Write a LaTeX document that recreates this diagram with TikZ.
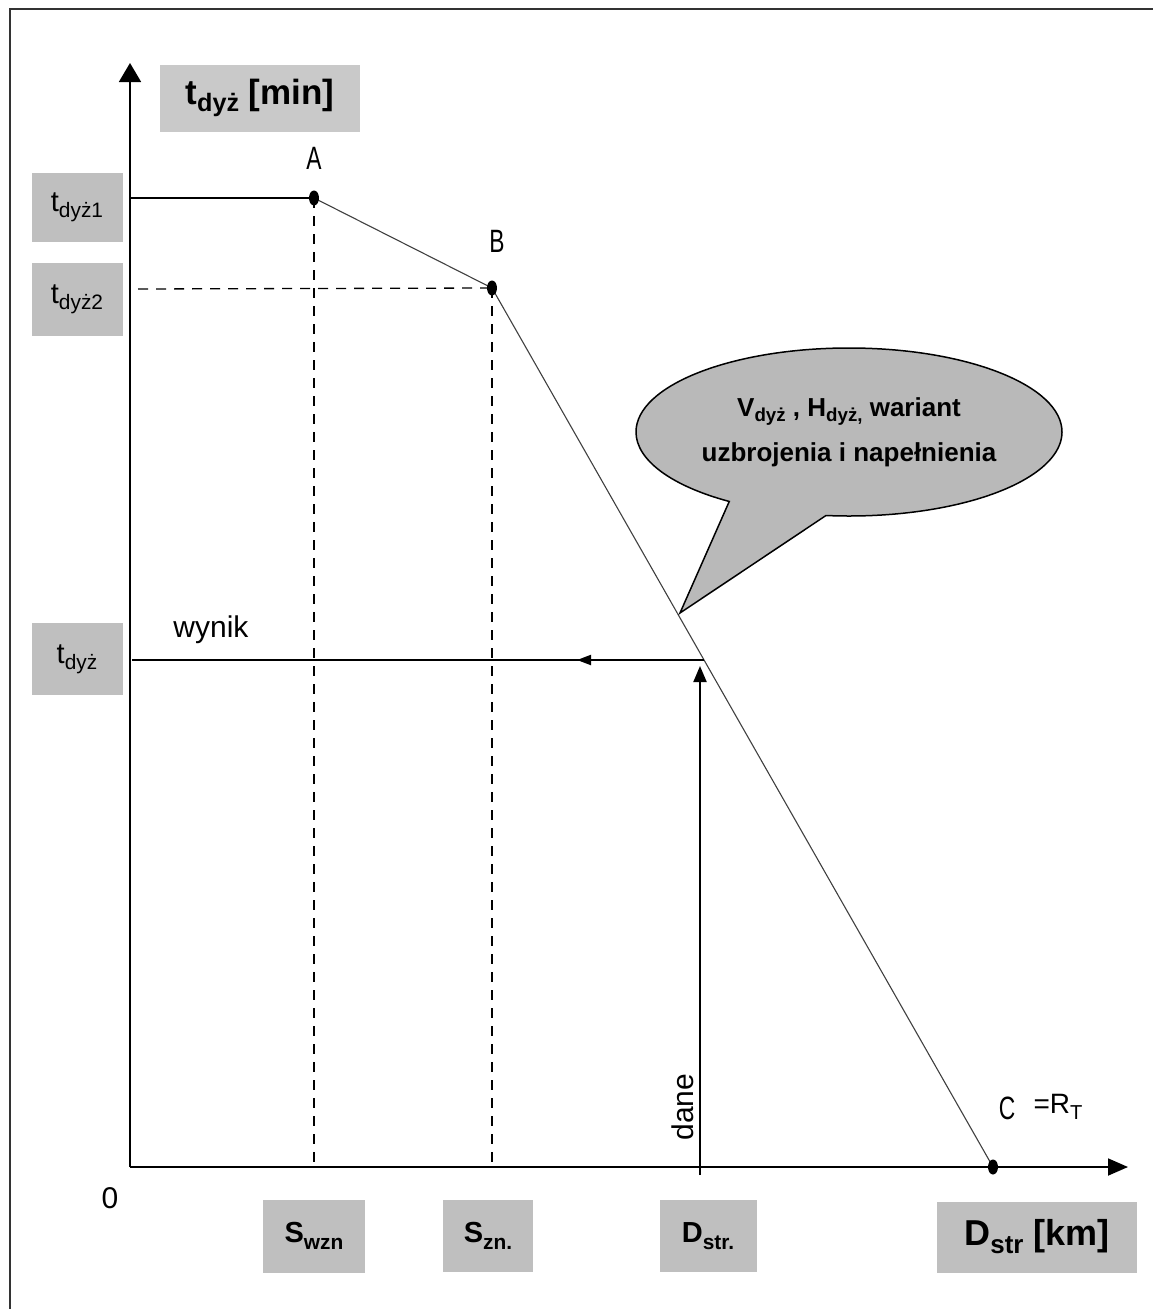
\documentclass[tikz,border=0pt]{standalone}
\usepackage{fontspec}
\setmainfont{Liberation Sans}
\usetikzlibrary{arrows.meta,shapes.callouts,shapes.geometric}
\tikzset{
  lbl/.style={fill=gray!50, inner sep=0pt, text=black, anchor=center},
  axisline/.style={line width=1.8pt, black},
  dashline/.style={line width=1.3pt, black, dash pattern=on 10pt off 8pt},
  curve/.style={line width=1.1pt, black!75},
  resline/.style={line width=2pt, black},
  pt/.style={ellipse, fill=black, inner sep=0pt, minimum width=10pt, minimum height=15pt},
  ptlbl/.style={inner sep=1pt, font=\fontsize{38}{38}\selectfont},
  plain/.style={inner sep=0pt, font=\fontsize{30}{30}\selectfont},
}
\newcommand{\narrowtxt}[1]{\scalebox{0.6}[0.85]{#1}}
\newcommand{\lsub}[1]{\raisebox{-0.22em}{\scalebox{0.72}{#1}}}
\begin{document}
\begin{tikzpicture}[x=1pt,y=-1pt]
\useasboundingbox (0,0) rectangle (1153,1309);
% frame
\coordinate (F1) at (10,1309);
\coordinate (F2) at (10,9);
\coordinate (F3) at (1153,9);
\draw[line width=1.4pt, black!80] (F1) -- (F2) -- (F3);

% key points
\coordinate (O) at (130,1167);
\coordinate (Ytip) at (130,63);
\coordinate (Xtip) at (1128,1167);
\coordinate (A) at (314,198);
\coordinate (B) at (492,288);
\coordinate (C) at (993,1167);
\coordinate (Ay) at (130,198);
\coordinate (By) at (138,289);
\coordinate (Ax) at (314,1167);
\coordinate (Bx) at (492,1167);
\coordinate (P) at (704,660);
\coordinate (W) at (132,660);
\coordinate (M) at (577,660);
\coordinate (Dbot) at (700,1175);
\coordinate (Dtip) at (700,666);

% axes
\draw[axisline, -{Triangle[length=19pt, width=22pt]}] (O) -- (Ytip);
\draw[axisline, -{Triangle[length=20pt, width=17pt]}] (O) -- (Xtip);

% guide lines
\draw[line width=1.1pt] (Ay) -- (A);
\draw[dashline] (By) -- (B);
\draw[dashline] (A) -- (Ax);
\draw[dashline] (B) -- (Bx);

% curve
\draw[curve] (A) -- (B) -- (C);

% points
\node[pt] (pA) at (A) {};
\node[pt] (pB) at (B) {};
\node[pt] (pC) at (C) {};

% result lines
\draw[resline] (P) -- (W);
\draw[resline, -{Triangle[length=14pt, width=10pt]}] (P) -- (M);
\draw[resline, -{Triangle[length=16pt, width=13pt]}] (Dbot) -- (Dtip);

% point labels
\node[ptlbl] (lA) at (314,158) {\narrowtxt{A}};
\node[ptlbl] (lB) at (497,241) {\narrowtxt{B}};
\node[ptlbl] (lC) at (1007,1108) {\narrowtxt{C}};
\node[inner sep=0pt, font=\fontsize{28}{28}\selectfont] (RT) at (1058,1107) {=R\lsub{T}};

% plain texts
\node[plain] (wynik) at (211,630) {wynik};
\node[plain, rotate=90] (dane) at (683,1107) {dane};
\node[plain] (zero) at (110,1198) {0};

% gray label boxes
\node[lbl, minimum width=200pt, minimum height=67pt, fill=gray!42, font=\bfseries\fontsize{35}{35}\selectfont] (ylab) at (260,98) {t\lsub{dyż} [min]};
\node[lbl, minimum width=91pt, minimum height=69pt, font=\fontsize{29}{29}\selectfont] (t1) at (77,207) {t\lsub{dyż1}};
\node[lbl, minimum width=91pt, minimum height=73pt, font=\fontsize{29}{29}\selectfont] (t2) at (77,299) {t\lsub{dyż2}};
\node[lbl, minimum width=91pt, minimum height=72pt, font=\fontsize{29}{29}\selectfont] (t0) at (77,659) {t\lsub{dyż}};
\node[lbl, minimum width=102pt, minimum height=73pt, font=\bfseries\fontsize{29}{29}\selectfont] (Swzn) at (314,1236) {S\lsub{wzn}};
\node[lbl, minimum width=90pt, minimum height=72pt, font=\bfseries\fontsize{29}{29}\selectfont] (Szn) at (488,1236) {S\lsub{zn.}};
\node[lbl, minimum width=97pt, minimum height=72pt, font=\bfseries\fontsize{29}{29}\selectfont] (Dstr) at (708,1236) {D\lsub{str.}};
\node[lbl, minimum width=200pt, minimum height=71pt, font=\bfseries\fontsize{36}{36}\selectfont] (Dkm) at (1037,1237) {D\lsub{str} [km]};

% callout
\coordinate (tail) at (680,613);
\node[ellipse callout, draw=black, line width=1.5pt, fill=gray!55,
      minimum width=426pt, minimum height=168pt, inner sep=0pt,
      callout absolute pointer={(tail)}, callout pointer arc=28,
      align=center, font=\bfseries\fontsize{26}{45}\selectfont] (bubble) at (849,432)
  {V\lsub{dyż} , H\lsub{dyż,} wariant\\uzbrojenia i napełnienia};
\end{tikzpicture}
\end{document}
